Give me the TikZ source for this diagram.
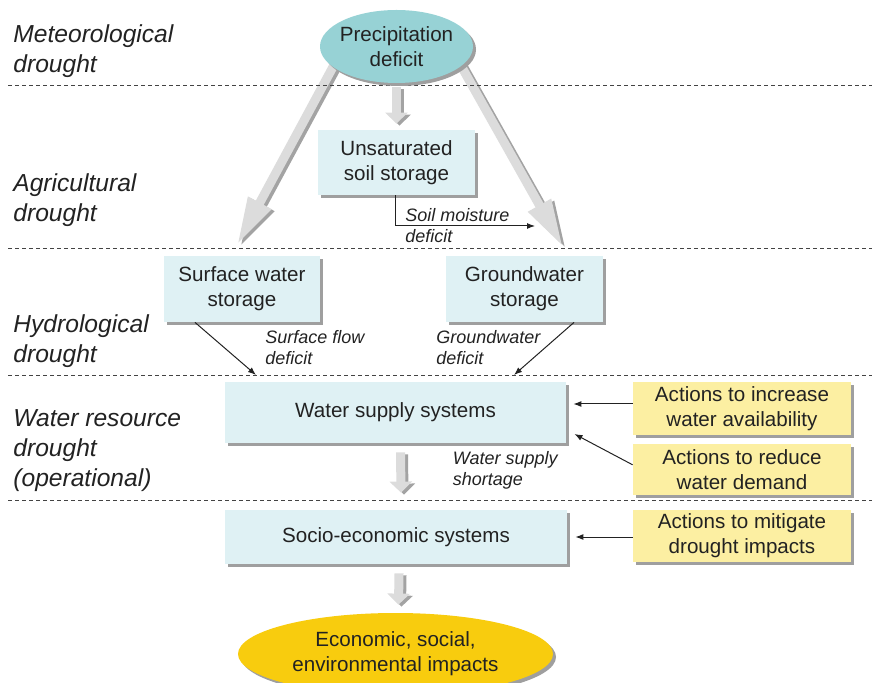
\documentclass[tikz,border=0pt]{standalone}
\usepackage{fontspec}
\setmainfont{Liberation Sans}
\usepackage{tikz}
\usetikzlibrary{positioning,arrows.meta,calc,backgrounds,shadows,shapes.geometric}
\definecolor{boxblue}{HTML}{DFF1F4}
\definecolor{boxyellow}{HTML}{FCEFA2}
\definecolor{tealfill}{HTML}{97D2D5}
\definecolor{goldfill}{HTML}{F8CC0E}
\definecolor{txtgray}{HTML}{222222}
\definecolor{fatgray}{HTML}{DCDCDC}
\definecolor{fatshade}{HTML}{A3A3A3}

\begin{document}
\begin{tikzpicture}[x=0.5pt,y=-0.5pt,>=latex,text=txtgray]

\tikzstyle{block} = [rectangle, fill=boxblue, align=center, inner sep=0pt, font=\fontsize{10.3}{12.5}\selectfont, drop shadow={shadow xshift=1.5pt,shadow yshift=-1.5pt,opacity=1,fill=gray!75}]
\tikzstyle{action} = [block, fill=boxyellow, minimum width=109pt]
\tikzstyle{oval} = [block, ellipse]
\tikzstyle{lbl} = [anchor=north west, inner sep=0pt, align=left, font=\fontsize{9}{10.5}\selectfont\itshape]
\tikzstyle{level} = [anchor=north west, inner sep=0pt, align=left, font=\fontsize{12.3}{15}\selectfont\itshape]
\tikzstyle{link} = [->, >={Latex[length=4pt,width=3pt]}, draw=txtgray, line width=0.5pt]
\tikzstyle{sepline} = [draw=txtgray!85, line width=0.4pt, dash pattern=on 2pt off 1.5pt]
\tikzstyle{bigarrow} = [draw=fatgray, line width=4.5pt, -{Triangle[length=24pt,width=12pt]}]
\tikzstyle{stubarrow} = [draw=fatgray, line width=4.5pt, -{Triangle[length=5.5pt,width=11pt]}]

\useasboundingbox (0,0) rectangle (872,683);

% drought levels
\foreach \y in {85,248,375,500}
  \draw[sepline] (8,\y) -- (872,\y);
\node [level] (met) at (13,24) {Meteorological\\drought};
\node [level] (agr) at (13,173) {Agricultural\\drought};
\node [level] (hyd) at (13,314) {Hydrological\\drought};
\node [level] (wrd) at (13,409) {Water resource\\drought\\(operational)};

% precipitation and storages
\node [oval, fill=tealfill, inner xsep=-1.5pt, minimum width=76.5pt, minimum height=36.5pt] (prec) at (396.5,46.5) {Precipitation\\deficit};
\node [block, minimum width=78.5pt, minimum height=32.5pt] (unsat) at (396.5,162.5) {Unsaturated\\soil storage};
\node [block, minimum width=78pt, minimum height=33pt] (surf) at (242,289) {Surface water\\storage};
\node [block, minimum width=78.5pt, minimum height=33pt] (ground) at (524.5,289) {Groundwater\\storage};

% deficits
\coordinate (smdEnd) at (535,226);
\coordinate (sfEnd) at (256,375);
\coordinate (gwEnd) at (514,375);
\draw [link] ([xshift=-0.5pt]unsat.south) |- (smdEnd);
\node [lbl] (smd) at (405,208) {Soil moisture\\deficit};
\draw [link] ([xshift=-23.5pt]surf.south) -- (sfEnd);
\node [lbl] (sfd) at (265,330) {Surface flow\\deficit};
\draw [link] ([xshift=24.75pt]ground.south) -- (gwEnd);
\node [lbl] (gwd) at (436,330) {Groundwater\\deficit};

% water supply
\node [block, minimum width=170.5pt, minimum height=30.5pt] (wss) at (395.5,412.5) {Water supply systems};
\node [action, minimum height=26.5pt] (inc) at (742,408.5) {Actions to increase\\water availability};
\node [action, minimum height=25.5pt, below=4pt of inc] (red) {Actions to reduce\\water demand};
\draw [link] ($(inc.west)+(0,-4.5)$) -- ($(inc.west -| wss.east)+(7,-4.5)$);
\draw [link] ($(red.west)+(0,-4.5)$) -- ($(wss.east)+(8,21.5)$);
\node [lbl] (wsd) at (452.5,451) {Water supply\\shortage};

% socio-economic
\node [block, minimum width=171pt, minimum height=27pt] (socio) at (396,537) {Socio-economic systems};
\node [action, minimum height=26pt] (mit) at (742,536) {Actions to mitigate\\drought impacts};
\draw [link] ($(mit.west)+(0,1)$) -- ($(mit.west -| socio.east)+(8,1)$);
\node [oval, fill=goldfill, minimum width=157.5pt, minimum height=41pt] (imp) at (395.5,654) {Economic, social,\\environmental impacts};

% grey flow arrows
\coordinate (surfTip) at (237,245);
\coordinate (groundTip) at (563,247);
\begin{scope}[on background layer]
\foreach \a/\b in {prec.198/surfTip, prec.-17/groundTip} {
  \draw [bigarrow, draw=fatshade] ([shift={(3,2)}]$(\a)!-8pt!(\b)$) -- ([shift={(3,2)}]\b);
  \draw [bigarrow] ($(\a)!-8pt!(\b)$) -- (\b);
}
\foreach \a/\ax/\ay/\b/\bx/\by in {prec.south/0/4/unsat.north/0/-6, wss.south/5/9/socio.north/5/-17, socio.south/3/9/imp.north/3/-8} {
  \draw [stubarrow, draw=fatshade] ($(\a)+(\ax+3,\ay+2)$) -- ($(\b)+(\bx+3,\by+2)$);
  \draw [stubarrow] ($(\a)+(\ax,\ay)$) -- ($(\b)+(\bx,\by)$);
}
\end{scope}

\end{tikzpicture}
\end{document}
